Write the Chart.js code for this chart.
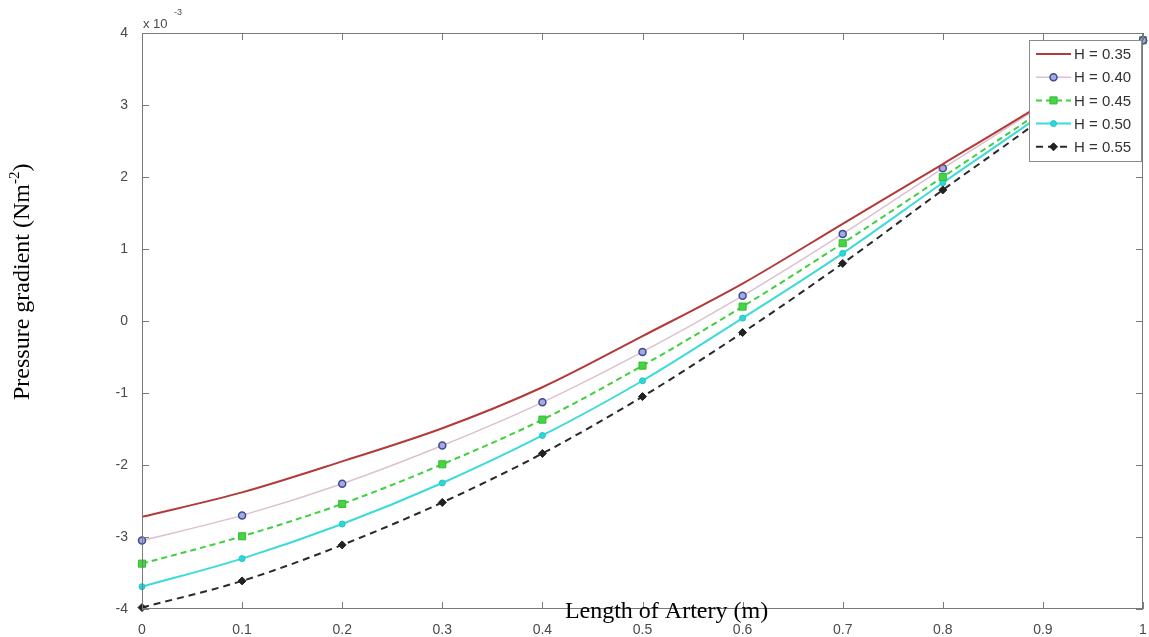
<!DOCTYPE html>
<html>
<head>
<meta charset="utf-8">
<title>Pressure gradient vs length of artery</title>
<script src="https://cdn.jsdelivr.net/npm/chart.js@4.4.1/dist/chart.umd.min.js"></script>
<style>
  html, body { margin: 0; padding: 0; background: #fff; overflow: hidden; }
  canvas { display: block; }
</style>
</head>
<body>
<canvas id="chart" width="1149" height="637"></canvas>
<script>
// length along artery (m)
const lengths = [0, 0.1, 0.2, 0.3, 0.4, 0.5, 0.6, 0.7, 0.8, 0.9, 1.0];

// pressure gradient, in units of 1e-3 Nm^-2, one list per hematocrit H
const h035 = [-2.72, -2.38, -1.95, -1.49, -0.92, -0.21, 0.52, 1.35, 2.18, 3.02, 3.90];
const h040 = [-3.05, -2.70, -2.26, -1.73, -1.13, -0.43, 0.35, 1.21, 2.12, 3.00, 3.90];
const h045 = [-3.37, -2.99, -2.54, -1.99, -1.37, -0.62, 0.20, 1.08, 2.00, 2.93, 3.90];
const h050 = [-3.69, -3.30, -2.82, -2.25, -1.59, -0.83, 0.04, 0.94, 1.92, 2.88, 3.90];
const h055 = [-3.98, -3.61, -3.11, -2.52, -1.84, -1.05, -0.16, 0.80, 1.82, 2.82, 3.90];

const seriesLabels = ['H = 0.35', 'H = 0.40', 'H = 0.45', 'H = 0.50', 'H = 0.55'];

const xTicks = [0, 0.1, 0.2, 0.3, 0.4, 0.5, 0.6, 0.7, 0.8, 0.9, 1];
const yTicks = [-4, -3, -2, -1, 0, 1, 2, 3, 4];

const pts = (ys) => lengths.map((x, i) => ({ x: x, y: ys[i] }));

const datasets = [
  { label: seriesLabels[0], data: pts(h035), borderColor: '#b23a3a', borderWidth: 2,
    pointRadius: 0, pointStyle: false },
  { label: seriesLabels[1], data: pts(h040), borderColor: '#dcc0d0', borderWidth: 1.5,
    pointStyle: 'circle', pointRadius: 3.5, pointBorderColor: '#3c4a9c', pointBackgroundColor: '#a4abd8',
    pointBorderWidth: 1.5 },
  { label: seriesLabels[2], data: pts(h045), borderColor: '#3fcf3f', borderWidth: 2, borderDash: [6, 4],
    pointStyle: 'rect', pointRadius: 5, pointBorderColor: '#33bb33', pointBackgroundColor: '#44d444',
    pointBorderWidth: 1 },
  { label: seriesLabels[3], data: pts(h050), borderColor: '#3ddada', borderWidth: 2,
    pointStyle: 'circle', pointRadius: 3, pointBorderColor: '#22c4c4', pointBackgroundColor: '#30d6d6',
    pointBorderWidth: 1 },
  { label: seriesLabels[4], data: pts(h055), borderColor: '#2a2a2a', borderWidth: 2, borderDash: [7, 5],
    pointStyle: 'rectRot', pointRadius: 4, pointBorderColor: '#222', pointBackgroundColor: '#222',
    pointBorderWidth: 1 }
];
datasets.forEach(d => { d.fill = false; d.clip = false; d.cubicInterpolationMode = 'monotone'; });

const tickFont = { family: 'Arial, "Liberation Sans", sans-serif', size: 14 };
const tickColor = '#4a4a4a';
const noPadding = () => ({ left: 0, top: 0, right: 0, bottom: 0 });

// MATLAB-like frame: box, inward ticks, exponent, axis titles and legend
const frame = {
  id: 'frame',
  afterDraw(chart) {
    const ctx = chart.ctx;
    const a = chart.chartArea;
    const xs = chart.scales.x, ys = chart.scales.y;
    ctx.save();
    ctx.strokeStyle = '#7a7a7a';
    ctx.lineWidth = 1;
    ctx.strokeRect(a.left + 0.5, a.top + 0.5, a.right - a.left - 1, a.bottom - a.top - 1);
    ctx.beginPath();
    xTicks.forEach(v => {
      const px = Math.round(xs.getPixelForValue(v)) + 0.5;
      ctx.moveTo(px, a.bottom); ctx.lineTo(px, a.bottom - 7);
      ctx.moveTo(px, a.top); ctx.lineTo(px, a.top + 7);
    });
    yTicks.forEach(v => {
      const py = Math.round(ys.getPixelForValue(v)) + 0.5;
      ctx.moveTo(a.left, py); ctx.lineTo(a.left + 7, py);
      ctx.moveTo(a.right, py); ctx.lineTo(a.right - 7, py);
    });
    ctx.stroke();

    // x 10^-3 multiplier
    ctx.fillStyle = tickColor;
    ctx.textBaseline = 'alphabetic';
    ctx.textAlign = 'left';
    ctx.font = '13px Arial, "Liberation Sans", sans-serif';
    ctx.fillText('x 10', a.left + 1, a.top - 5);
    ctx.font = '9px Arial, "Liberation Sans", sans-serif';
    ctx.fillText('-3', a.left + 32, a.top - 18);

    // axis titles
    ctx.fillStyle = '#000';
    ctx.font = '24px "Liberation Serif", "Times New Roman", serif';
    ctx.textAlign = 'center';
    ctx.fillText('Length of Artery (m)', a.left + 0.524 * (a.right - a.left), a.bottom + 9);

    ctx.save();
    ctx.translate(29, 400);
    ctx.rotate(-Math.PI / 2);
    ctx.textAlign = 'left';
    const main = 'Pressure gradient (Nm';
    ctx.font = '24px "Liberation Serif", "Times New Roman", serif';
    ctx.fillText(main, 0, 0);
    let off = ctx.measureText(main).width;
    ctx.font = '15px "Liberation Serif", "Times New Roman", serif';
    ctx.fillText('-2', off, -10);
    off += ctx.measureText('-2').width;
    ctx.font = '24px "Liberation Serif", "Times New Roman", serif';
    ctx.fillText(')', off, 0);
    ctx.restore();

    // legend box in the upper right corner
    const bx = a.right - 114, by = a.top + 7, bw = 112, bh = 121;
    ctx.fillStyle = '#fff';
    ctx.fillRect(bx, by, bw, bh);
    ctx.strokeStyle = '#8a8a8a';
    ctx.strokeRect(bx + 0.5, by + 0.5, bw, bh);
    chart.data.datasets.forEach((d, i) => {
      const cy = by + 14 + i * 23.2;
      const x0 = bx + 7, x1 = bx + 42, xm = (x0 + x1) / 2;
      ctx.strokeStyle = d.borderColor;
      ctx.lineWidth = d.borderWidth;
      ctx.setLineDash(d.borderDash || []);
      ctx.beginPath(); ctx.moveTo(x0, cy); ctx.lineTo(x1, cy); ctx.stroke();
      ctx.setLineDash([]);
      if (d.pointStyle) {
        ctx.fillStyle = d.pointBackgroundColor;
        ctx.strokeStyle = d.pointBorderColor;
        ctx.lineWidth = d.pointBorderWidth;
        Chart.helpers.drawPoint(ctx, { pointStyle: d.pointStyle, radius: d.pointRadius,
          borderWidth: d.pointBorderWidth, rotation: 0 }, xm, cy);
      }
      ctx.fillStyle = '#333';
      ctx.font = '15px Arial, "Liberation Sans", sans-serif';
      ctx.textAlign = 'left';
      ctx.textBaseline = 'middle';
      ctx.fillText(d.label, x1 + 3, cy + 1);
    });
    ctx.restore();
  }
};

new Chart(document.getElementById('chart'), {
  type: 'line',
  data: { datasets: datasets },
  options: {
    responsive: false,
    animation: false,
    layout: { padding: { left: 0, right: 2, top: 33, bottom: 0 } },
    plugins: { legend: { display: false }, tooltip: { enabled: false } },
    scales: {
      x: {
        type: 'linear', min: 0, max: 1,
        afterBuildTicks: (s) => { s.ticks = xTicks.map(v => ({ value: v })); },
        afterFit: (s) => { s.height = 28; s.paddingLeft = 0; s.paddingRight = 0; s.getPadding = noPadding; },
        grid: { display: false },
        border: { display: false },
        ticks: { font: tickFont, color: tickColor, padding: 5, maxRotation: 0,
          callback: (v) => String(Number(v.toFixed(1))) }
      },
      y: {
        type: 'linear', min: -4, max: 4,
        afterBuildTicks: (s) => { s.ticks = yTicks.map(v => ({ value: v })); },
        afterFit: (s) => { s.width = 142; s.paddingTop = 0; s.paddingBottom = 0; s.getPadding = noPadding; },
        grid: { display: false },
        border: { display: false },
        ticks: { font: tickFont, color: tickColor, padding: 6 }
      }
    }
  },
  plugins: [frame]
});
</script>
</body>
</html>
